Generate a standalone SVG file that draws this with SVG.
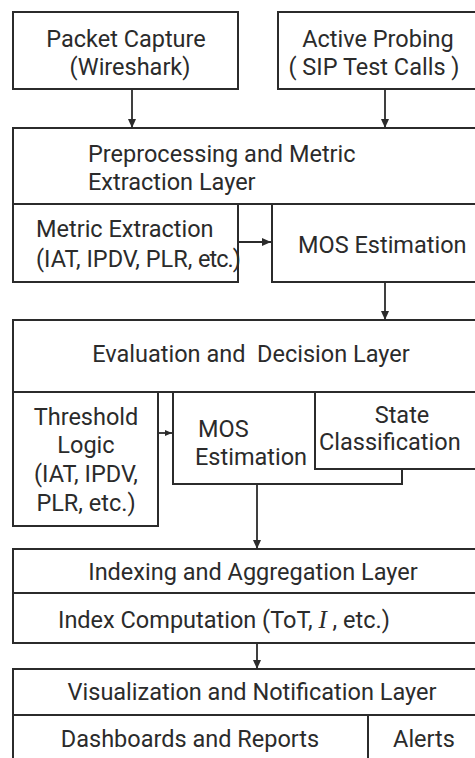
<svg xmlns="http://www.w3.org/2000/svg" width="475" height="758" viewBox="0 0 475 758">
<defs>
<marker id="ah" markerWidth="10" markerHeight="10" refX="9" refY="5" orient="auto" markerUnits="userSpaceOnUse">
<path d="M0,1 L9,5 L0,9 Z" fill="#2b2b2b"/>
</marker>
<marker id="ahs" markerWidth="8" markerHeight="8" refX="7" refY="4" orient="auto" markerUnits="userSpaceOnUse">
<path d="M0,1 L7,4 L0,7 Z" fill="#2b2b2b"/>
</marker>
</defs>
<style>
rect{fill:#fff;stroke:#2b2b2b;stroke-width:2}
text{font-family:Roboto,"Liberation Sans",sans-serif;font-size:23.5px;fill:#2b2b2b}
.c{text-anchor:middle}
.ar{stroke:#2b2b2b;stroke-width:1.8;fill:none;marker-end:url(#ah)}
</style>
<rect x="0" y="0" width="475" height="758" style="stroke:none"/>
<g id="packet-capture">
<rect x="13" y="12" width="225" height="77"/>
<text class="c" x="126" y="47">Packet Capture</text>
<text class="c" x="130" y="75">(Wireshark)</text>
</g>
<g id="active-probing">
<rect x="278" y="12" width="210" height="77"/>
<text class="c" x="378" y="47">Active Probing</text>
<text class="c" x="374" y="75" xml:space="preserve">( SIP Test Calls )</text>
</g>
<g id="preprocessing-layer">
<rect x="13" y="128" width="475" height="76"/>
<text x="88" y="162">Preprocessing and Metric</text>
<text x="88" y="190">Extraction Layer</text>
</g>
<g id="metric-extraction">
<rect x="13" y="204" width="225" height="78"/>
<text x="36" y="237">Metric Extraction</text>
<text x="36" y="267">(IAT, IPDV, PLR, <tspan style="letter-spacing:-1px">etc.</tspan>)</text>
</g>
<g id="mos-estimation-1">
<rect x="272" y="204" width="216" height="78"/>
<text x="298" y="253">MOS Estimation</text>
</g>
<g id="evaluation-layer">
<rect x="13" y="320" width="475" height="72"/>
<text class="c" x="251" y="362" xml:space="preserve">Evaluation and  Decision Layer</text>
</g>
<g id="threshold-logic">
<rect x="13" y="392" width="145" height="134"/>
<text class="c" x="86" y="425">Threshold</text>
<text class="c" x="86" y="453">Logic</text>
<text class="c" x="86" y="482">(IAT, IPDV,</text>
<text class="c" x="86" y="511">PLR, etc.)</text>
</g>
<g id="mos-estimation-2">
<rect x="173" y="392" width="229" height="92"/>
<text x="198" y="437">MOS</text>
<text x="195" y="465">Estimation</text>
</g>
<g id="state-classification">
<rect x="315" y="392" width="173" height="77"/>
<text class="c" x="402" y="423">State</text>
<text x="319" y="450">Classification</text>
</g>
<g id="indexing-layer">
<rect x="13" y="549" width="475" height="44"/>
<text class="c" x="253" y="580">Indexing and Aggregation Layer</text>
</g>
<g id="index-computation">
<rect x="13" y="593" width="475" height="50"/>
<text x="58" y="628" xml:space="preserve">Index Computation (ToT, <tspan style="font-family:'Liberation Serif',serif;font-style:italic;font-size:25px">I</tspan> , etc.)</text>
</g>
<g id="visualization-layer">
<rect x="13" y="669" width="475" height="46"/>
<text class="c" x="252" y="700">Visualization and Notification Layer</text>
</g>
<g id="dashboards">
<rect x="13" y="715" width="355" height="60"/>
<text class="c" x="190" y="747">Dashboards and Reports</text>
</g>
<g id="alerts">
<rect x="368" y="715" width="120" height="60"/>
<text class="c" x="424" y="747">Alerts</text>
</g>
<g id="connectors">
<line class="ar" x1="132" y1="89" x2="132" y2="128"/>
<line class="ar" x1="385" y1="89" x2="385" y2="128"/>
<line class="ar" x1="238" y1="242" x2="271" y2="242"/>
<line class="ar" x1="385" y1="282" x2="385" y2="320"/>
<line class="ar" x1="158" y1="433" x2="172" y2="433" style="marker-end:url(#ahs)"/>
<line class="ar" x1="257" y1="484" x2="257" y2="549"/>
<line class="ar" x1="257" y1="643" x2="257" y2="669"/>
</g>
</svg>
